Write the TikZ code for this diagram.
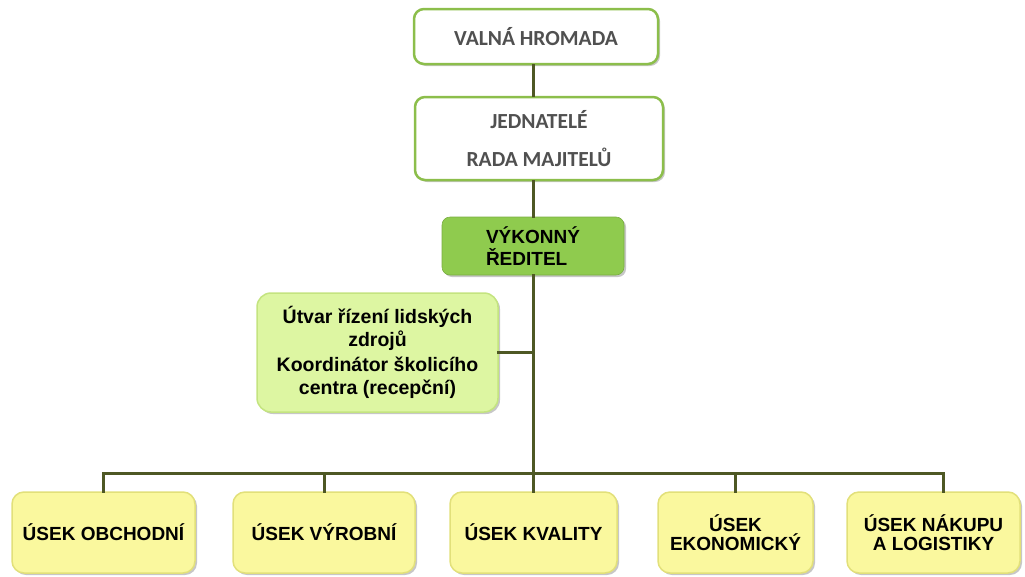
\documentclass[tikz,border=0pt]{standalone}
\usepackage{fontspec}
\setmainfont{Liberation Sans}
\newfontfamily\calibrifont{Carlito}
\usetikzlibrary{shadows}

\definecolor{ramzelena}{RGB}{140,190,75}
\definecolor{reditelzelena}{RGB}{143,203,78}
\definecolor{svetlezelena}{RGB}{221,246,162}
\definecolor{okrajzelena}{RGB}{196,228,128}
\definecolor{zluta}{RGB}{250,248,158}
\definecolor{okrajzluta}{RGB}{226,224,122}
\definecolor{spojbarva}{RGB}{78,88,36}
\definecolor{seda}{RGB}{80,80,80}

\begin{document}
\begin{tikzpicture}[x=1pt, y=-1pt, line join=round, line cap=round,
	stin/.style={drop shadow={shadow xshift=2pt, shadow yshift=-2pt, opacity=0.22, fill=black}},
	topbox/.style={rounded corners=10pt, align=center, inner sep=0pt, draw=ramzelena, line width=2.5pt, fill=white, text=seda, stin, font=\calibrifont\bfseries\fontsize{21.5}{24}\selectfont},
	bossbox/.style={rounded corners=8pt, align=left, inner sep=0pt, draw=reditelzelena!85!black, line width=0.6pt, fill=reditelzelena, stin, font=\bfseries\fontsize{19}{22}\selectfont},
	hrbox/.style={rounded corners=14pt, align=center, inner sep=0pt, draw=okrajzelena, line width=1.5pt, fill=svetlezelena, stin, font=\bfseries\fontsize{19.5}{22.5}\selectfont},
	usekbox/.style={rounded corners=12pt, align=center, inner sep=0pt, draw=okrajzluta, line width=1.5pt, fill=zluta, stin, minimum height=81, font=\bfseries\fontsize{19}{19}\selectfont},
	spoj/.style={draw=spojbarva, line width=3pt, line cap=rect}]
	\useasboundingbox (0,0) rectangle (1025,576);

	% Vedení společnosti
	\node[topbox, minimum width=244, minimum height=55] (valna) at (536,36.5) {VALNÁ HROMADA};
	\node[topbox, minimum width=248, minimum height=83] (jednatele) at (539,138.5) {JEDNATELÉ\\[14pt]RADA MAJITELŮ};
	\node[bossbox, minimum width=182, minimum height=58] (reditel) at (533,246) {VÝKONNÝ\\ŘEDITEL};

	% Štábní útvar
	\node[hrbox, minimum width=241, minimum height=119] (hr) at (377.5,352.5) {Útvar řízení lidských\\zdrojů\\[3pt]Koordinátor školicího\\centra (recepční)};

	% Úseky
	\foreach \n/\x/\w/\t in {obchod/103.5/183/{ÚSEK OBCHODNÍ}, vyroba/324/182/{ÚSEK VÝROBNÍ}, kvalita/533.5/167/{ÚSEK KVALITY}, ekonomika/735.5/155/{ÚSEK\\EKONOMICKÝ}, nakup/933.5/173/{ÚSEK NÁKUPU\\A LOGISTIKY}} {
		\node[usekbox, minimum width=\w] (\n) at (\x,532.5) {\t};
	}

	% Spojnice
	\coordinate (sbernice) at (533,473);
	\draw[spoj] (valna.south -| reditel.north) -- (jednatele.north -| reditel.north);
	\draw[spoj] (jednatele.south -| reditel.north) -- (reditel.north);
	\draw[spoj] (reditel.south) -- (reditel.south |- sbernice);
	\draw[spoj] (hr.east) -- (hr.east -| reditel.south);
	\draw[spoj] (obchod.north |- sbernice) -- ([xshift=9.5pt]nakup.north |- sbernice);
	\foreach \n in {obchod, vyroba, kvalita, ekonomika} {
		\draw[spoj] (\n.north |- sbernice) -- (\n.north);
	}
	\draw[spoj] ([xshift=9.5pt]nakup.north |- sbernice) -- ([xshift=9.5pt]nakup.north);
\end{tikzpicture}
\end{document}
